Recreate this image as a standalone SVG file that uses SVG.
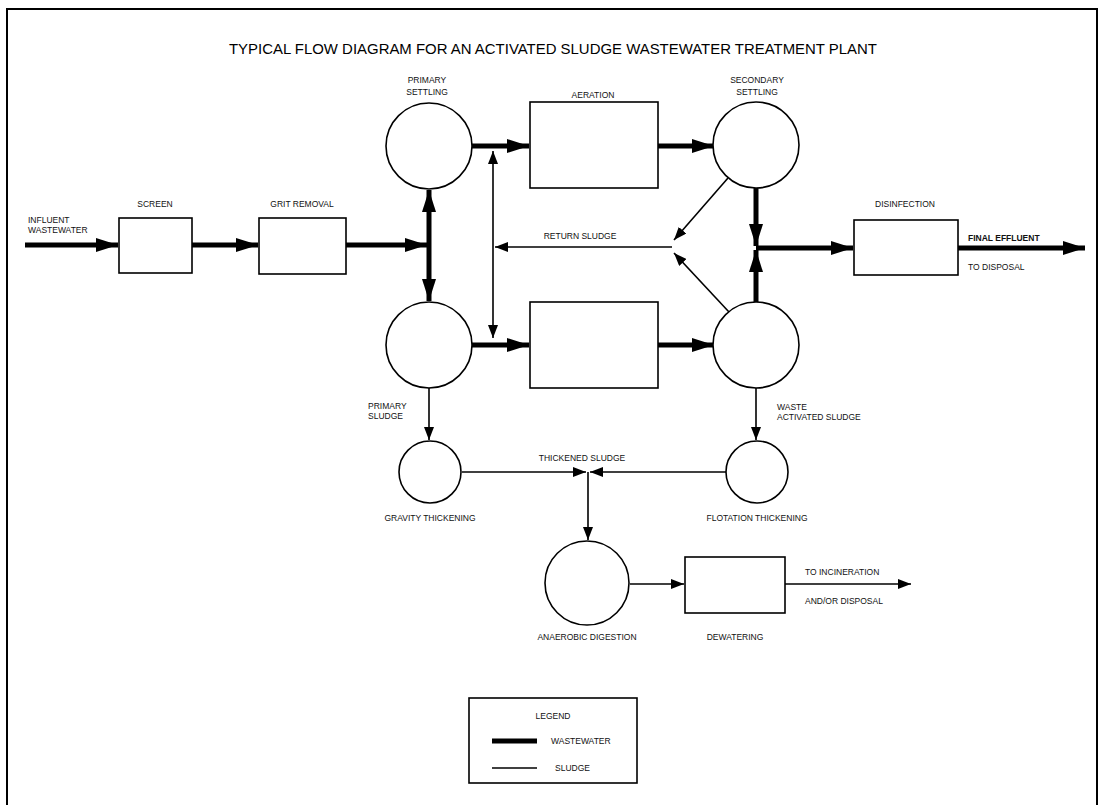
<svg xmlns="http://www.w3.org/2000/svg" width="1101" height="805" viewBox="0 0 1101 805">
<style>
.bg{fill:#fff}
.frame{fill:none;stroke:#000;stroke-width:2}
.unit{fill:#fff;stroke:#000;stroke-width:1.6}
.ww{fill:none;stroke:#000;stroke-width:5}
.sl{fill:none;stroke:#000;stroke-width:1.6}
.lbl{font-family:"Liberation Sans",Arial,sans-serif;font-size:8.5px;fill:#111}
.title{font-family:"Liberation Sans",Arial,sans-serif;font-size:15px;fill:#000}
.mid{text-anchor:middle}
</style>
<defs>
<marker id="bh" markerUnits="userSpaceOnUse" markerWidth="24" markerHeight="14" refX="22" refY="7" orient="auto-start-reverse"><path d="M0,0 L22,7 L0,14 z" fill="#000"/></marker>
<marker id="sh" markerUnits="userSpaceOnUse" markerWidth="14" markerHeight="10" refX="13" refY="5" orient="auto-start-reverse"><path d="M0,0 L13,5 L0,10 z" fill="#000"/></marker>
</defs>
<rect class="bg" x="0" y="0" width="1101" height="805"/>
<path class="frame" d="M7,806 L7,9 L1097,9 L1097,806"/>
<text class="title mid" x="553" y="54" textLength="648" lengthAdjust="spacingAndGlyphs">TYPICAL FLOW DIAGRAM FOR AN ACTIVATED SLUDGE WASTEWATER TREATMENT PLANT</text>

<g id="connectors">
<line class="ww" x1="25" y1="245" x2="118" y2="245" marker-end="url(#bh)"/>
<line class="ww" x1="192" y1="245" x2="258" y2="245" marker-end="url(#bh)"/>
<line class="ww" x1="346" y1="245" x2="427" y2="245" marker-end="url(#bh)"/>
<line class="ww" x1="429" y1="190" x2="429" y2="301" marker-start="url(#bh)" marker-end="url(#bh)"/>
<line class="ww" x1="472" y1="146" x2="529" y2="146" marker-end="url(#bh)"/>
<line class="ww" x1="472" y1="345" x2="529" y2="345" marker-end="url(#bh)"/>
<line class="ww" x1="658" y1="146" x2="714" y2="146" marker-end="url(#bh)"/>
<line class="ww" x1="658" y1="345" x2="714" y2="345" marker-end="url(#bh)"/>
<line class="ww" x1="756" y1="188" x2="756" y2="246" marker-end="url(#bh)"/>
<line class="ww" x1="756" y1="302" x2="756" y2="250" marker-end="url(#bh)"/>
<line class="ww" x1="756" y1="248" x2="853" y2="248" marker-end="url(#bh)"/>
<line class="ww" x1="958" y1="248" x2="1085" y2="248" marker-end="url(#bh)"/>
<line class="sl" x1="493" y1="151" x2="493" y2="338" marker-start="url(#sh)" marker-end="url(#sh)"/>
<line class="sl" x1="672" y1="247" x2="495" y2="247" marker-end="url(#sh)"/>
<line class="sl" x1="728" y1="178" x2="674" y2="240" marker-end="url(#sh)"/>
<line class="sl" x1="729" y1="312" x2="674" y2="253" marker-end="url(#sh)"/>
<line class="sl" x1="429" y1="388" x2="429" y2="440" marker-end="url(#sh)"/>
<line class="sl" x1="756" y1="388" x2="756" y2="440" marker-end="url(#sh)"/>
<line class="sl" x1="462" y1="472" x2="586" y2="472" marker-end="url(#sh)"/>
<line class="sl" x1="726" y1="472" x2="590" y2="472" marker-end="url(#sh)"/>
<line class="sl" x1="588" y1="472" x2="588" y2="540" marker-end="url(#sh)"/>
<line class="sl" x1="630" y1="584" x2="684" y2="584" marker-end="url(#sh)"/>
<line class="sl" x1="785" y1="584" x2="911" y2="584" marker-end="url(#sh)"/>
</g>

<g id="influent"><text class="lbl" x="28" y="223">INFLUENT</text><text class="lbl" x="28" y="233">WASTEWATER</text></g>
<g id="screen"><rect class="unit" x="119" y="218" width="73" height="55"/><text class="lbl mid" x="155" y="207">SCREEN</text></g>
<g id="grit-removal"><rect class="unit" x="259" y="218" width="87" height="56"/><text class="lbl mid" x="302" y="207">GRIT REMOVAL</text></g>
<g id="primary-settling-1"><circle class="unit" cx="429" cy="146" r="43"/><text class="lbl mid" x="427" y="83">PRIMARY</text><text class="lbl mid" x="427" y="95">SETTLING</text></g>
<g id="primary-settling-2"><circle class="unit" cx="429" cy="345" r="43"/></g>
<g id="aeration-1"><rect class="unit" x="530" y="102" width="128" height="86"/><text class="lbl mid" x="593" y="98">AERATION</text></g>
<g id="aeration-2"><rect class="unit" x="530" y="302" width="128" height="86"/></g>
<g id="secondary-settling-1"><circle class="unit" cx="756" cy="145" r="43"/><text class="lbl mid" x="757" y="83">SECONDARY</text><text class="lbl mid" x="757" y="95">SETTLING</text></g>
<g id="secondary-settling-2"><circle class="unit" cx="756" cy="345" r="43"/></g>
<g id="return-sludge"><text class="lbl mid" x="580" y="239">RETURN SLUDGE</text></g>
<g id="disinfection"><rect class="unit" x="854" y="220" width="104" height="55"/><text class="lbl mid" x="905" y="207">DISINFECTION</text></g>
<g id="final-effluent"><text class="lbl" x="968" y="241" font-weight="bold">FINAL EFFLUENT</text><text class="lbl" x="968" y="270">TO DISPOSAL</text></g>
<g id="primary-sludge"><text class="lbl" x="368" y="409">PRIMARY</text><text class="lbl" x="368" y="419">SLUDGE</text></g>
<g id="waste-activated-sludge"><text class="lbl" x="777" y="410">WASTE</text><text class="lbl" x="777" y="420">ACTIVATED SLUDGE</text></g>
<g id="gravity-thickening"><circle class="unit" cx="430" cy="472" r="31"/><text class="lbl mid" x="430" y="521">GRAVITY THICKENING</text></g>
<g id="flotation-thickening"><circle class="unit" cx="757" cy="472" r="31"/><text class="lbl mid" x="757" y="521">FLOTATION THICKENING</text></g>
<g id="thickened-sludge"><text class="lbl mid" x="582" y="461">THICKENED SLUDGE</text></g>
<g id="anaerobic-digestion"><circle class="unit" cx="587" cy="583" r="42"/><text class="lbl mid" x="587" y="640">ANAEROBIC DIGESTION</text></g>
<g id="dewatering"><rect class="unit" x="685" y="557" width="100" height="56"/><text class="lbl mid" x="735" y="640">DEWATERING</text></g>
<g id="to-incineration"><text class="lbl" x="805" y="575">TO INCINERATION</text><text class="lbl" x="805" y="604">AND/OR DISPOSAL</text></g>
<g id="legend">
<rect class="unit" x="469" y="698" width="168" height="85"/>
<text class="lbl mid" x="553" y="719">LEGEND</text>
<line class="ww" x1="492" y1="741" x2="537" y2="741"/>
<text class="lbl" x="551" y="744">WASTEWATER</text>
<line class="sl" x1="492" y1="768" x2="537" y2="768"/>
<text class="lbl" x="555" y="771">SLUDGE</text>
</g>
</svg>
